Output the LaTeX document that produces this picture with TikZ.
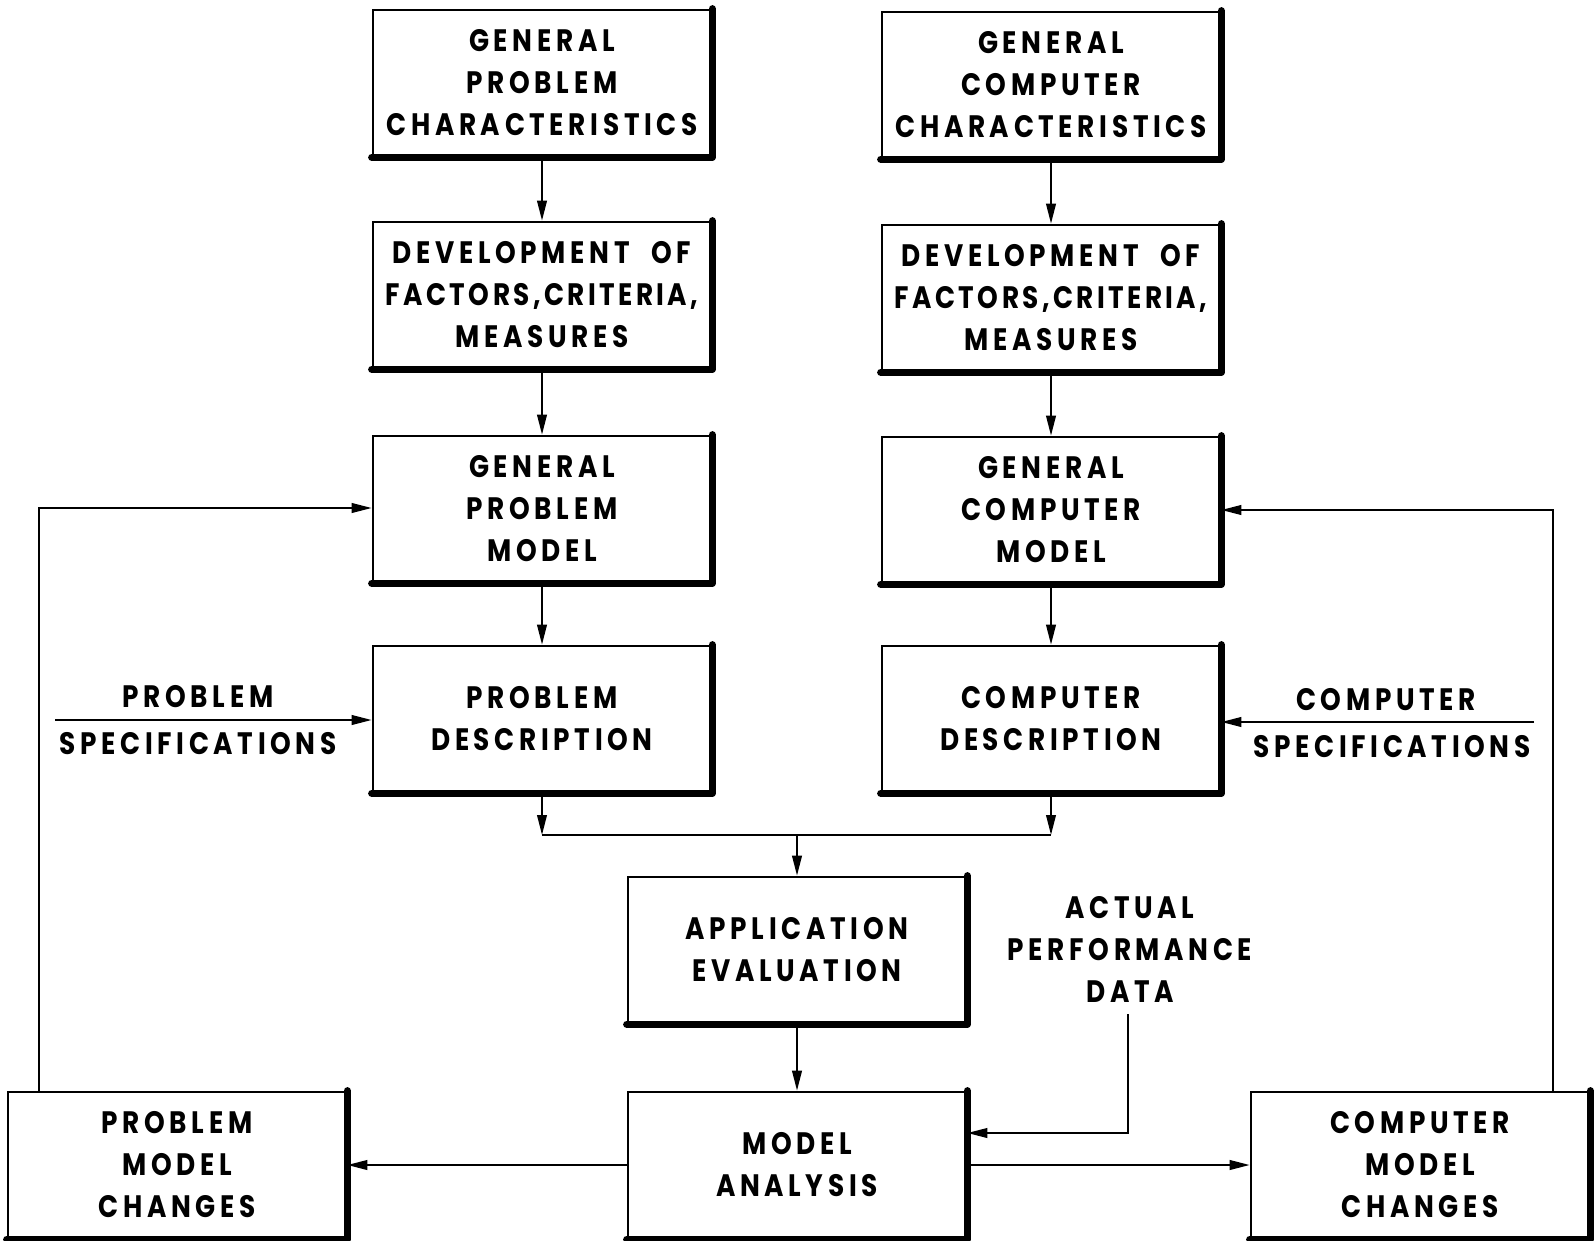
\documentclass[tikz,border=0pt]{standalone}
\usepackage{fontspec}
\setmainfont[FakeStretch=0.85,LetterSpace=15]{Poppins}
\usetikzlibrary{arrows.meta}

\begin{document}
\begin{tikzpicture}[x=0.5pt,y=-0.5pt,
    box/.style={draw, line width=1.3pt, minimum width=169pt, minimum height=73pt,
        inner sep=0pt, align=center, font=\fontsize{15.5}{21}\selectfont\bfseries},
    lbl/.style={inner sep=0pt, align=center, font=\fontsize{15.5}{21}\selectfont\bfseries},
    flow/.style={line width=1pt, -{Triangle[length=10pt,width=4.8pt]}},
    wire/.style={line width=1pt},
    rim/.style={line width=3.6pt, line cap=round, line join=round}]
    \useasboundingbox (0,0) rectangle (1596,1241);

    % Columna del problema
    \node[box] (gpc) at (542,83) {GENERAL\\PROBLEM\\CHARACTERISTICS};
    \node[box] (devp) at (542,295) {DEVELOPMENT\hspace{11pt}OF\\{\addfontfeatures{LetterSpace=11}FACTORS,CRITERIA,}\\MEASURES};
    \node[box] (gpm) at (542,509) {GENERAL\\PROBLEM\\MODEL};
    \node[box] (pd) at (542,719) {PROBLEM\\DESCRIPTION};

    % Columna del computador
    \node[box] (gcc) at (1051,85) {GENERAL\\COMPUTER\\CHARACTERISTICS};
    \node[box] (devc) at (1051,298) {DEVELOPMENT\hspace{11pt}OF\\{\addfontfeatures{LetterSpace=11}FACTORS,CRITERIA,}\\MEASURES};
    \node[box] (gcm) at (1051,510) {GENERAL\\COMPUTER\\MODEL};
    \node[box] (cd) at (1051,719) {COMPUTER\\DESCRIPTION};

    % Evaluacion y analisis
    \node[box] (ae) at (797,950) {APPLICATION\\EVALUATION};
    \node[box] (ma) at (797,1165) {MODEL\\ANALYSIS};
    \node[box] (pmc) at (177,1165) {PROBLEM\\MODEL\\CHANGES};
    \node[box] (cmc) at (1420,1165) {COMPUTER\\MODEL\\CHANGES};

    % Bordes gruesos abajo y a la derecha
    \foreach \n in {gpc,devp,gpm,pd,gcc,devc,gcm,cd,ae,ma,pmc,cmc}
        \draw[rim] (\n.north east) -- (\n.south east) -- (\n.south west);

    % Entradas externas
    \node[lbl] (pspec1) at (198,697) {PROBLEM};
    \node[lbl] (pspec2) at (198,744) {SPECIFICATIONS};
    \node[lbl] (cspec1) at (1386,700) {COMPUTER};
    \node[lbl] (cspec2) at (1392,747) {SPECIFICATIONS};
    \node[lbl, inner ysep=6pt] (apd) at (1130,949) {ACTUAL\\PERFORMANCE\\DATA};
    \coordinate (psin) at (55,720);
    \coordinate (csin) at (1534,722);
    \draw[flow] (psin) -- (psin -| pd.west);
    \draw[flow] (csin) -- (csin -| cd.east);

    % Flechas verticales de cada columna
    \draw[flow] (gpc) -- (devp);
    \draw[flow] (devp) -- (gpm);
    \draw[flow] (gpm) -- (pd);
    \draw[flow] (gcc) -- (devc);
    \draw[flow] (devc) -- (gcm);
    \draw[flow] (gcm) -- (cd);

    % Union de las descripciones
    \coordinate (join) at (797,835);
    \draw[flow] (pd.south) -- (pd.south |- join);
    \draw[flow] (cd.south) -- (cd.south |- join);
    \draw[wire] (pd.south |- join) -- (cd.south |- join);
    \draw[flow] (join) -- (ae.north);
    \draw[flow] (ae) -- (ma);

    % Datos reales hacia el analisis
    \coordinate (apdk) at (1128,1133);
    \draw[flow] (apd.south -| apdk) -- (apdk) -- (apdk -| ma.east);

    % Cambios de modelo
    \draw[flow] (ma.west) -- (pmc.east);
    \draw[flow] (ma.east) -- (cmc.west);
    \coordinate (fbp) at (39,508);
    \coordinate (fbc) at (1553,510);
    \draw[flow] (pmc.north -| fbp) -- (fbp) -- (fbp -| gpm.west);
    \draw[flow] (cmc.north -| fbc) -- (fbc) -- (fbc -| gcm.east);
\end{tikzpicture}
\end{document}
